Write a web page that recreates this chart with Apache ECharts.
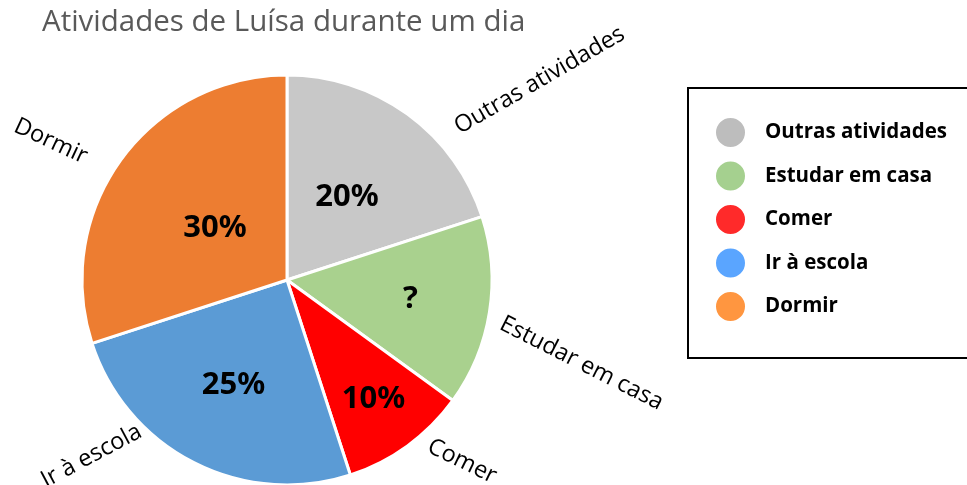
<!DOCTYPE html>
<html>
<head>
<meta charset="utf-8">
<script src="https://cdn.jsdelivr.net/npm/echarts@6/dist/echarts.min.js"></script>
<style>
  html, body { margin: 0; padding: 0; background: #fff; }
  #chart { width: 967px; height: 485px; }
</style>
</head>
<body>
<div id="chart"></div>
<script>
// Daily activities (share of the day, %)
const categories = ['Outras atividades', 'Estudar em casa', 'Comer', 'Ir à escola', 'Dormir'];
const values = [20, 15, 10, 25, 30];
const valueLabels = ['20%', '?', '10%', '25%', '30%'];

// Colours of the slices and of the legend markers
const sliceColors = ['#c8c8c8', '#a9d18e', '#ff0000', '#5b9bd5', '#ed7d31'];
const legendColors = ['#bdbdbd', '#a5d08f', '#ff2a2a', '#5aa5ff', '#ff9640'];

// Pie geometry
const CX = 287, CY = 280, R = 205;
// Radius used to place each bold value label inside its slice
const innerRadius = [102, 125, 147, 118, 89];
// Name labels around the pie: polar position (deg, px) and text rotation (deg)
const outerPlacement = [
  { a: 38.3, r: 322, rot: 30 },
  { a: -15.8, r: 306, rot: -27 },
  { a: -46, r: 252, rot: -26 },
  { a: -138, r: 263, rot: 28 },
  { a: 149.6, r: 274, rot: -25 }
];

const total = values.reduce((s, v) => s + v, 0);
const midAngles = [];
let acc = 0;
values.forEach(v => {
  midAngles.push(90 - 360 * (acc + v / 2) / total);
  acc += v;
});

const pieData = categories.map((name, i) => ({
  name,
  value: values[i],
  itemStyle: { color: sliceColors[i] }
}));

const chart = echarts.init(document.getElementById('chart'), null, { renderer: 'canvas' });

chart.setOption({
  animation: false,
  backgroundColor: '#ffffff',
  title: {
    text: 'Atividades de Luísa durante um dia',
    left: 37,
    top: 3,
    textStyle: {
      fontFamily: 'Open Sans',
      fontSize: 29.5,
      fontWeight: 'normal',
      color: '#595959'
    }
  },
  legend: {
    orient: 'vertical',
    left: 688,
    top: 88,
    padding: [28, 30, 35, 26],
    borderColor: '#000',
    borderWidth: 2,
    itemWidth: 31,
    itemHeight: 31,
    itemGap: 10.5,
    icon: 'circle',
    selectedMode: false,
    textStyle: {
      fontFamily: 'Open Sans',
      fontSize: 20.5,
      fontWeight: 'bold',
      color: '#000',
      padding: [0, 0, 0, 14]
    },
    data: categories.map((name, i) => ({
      name,
      itemStyle: { color: legendColors[i] }
    }))
  },
  series: [
    {
      type: 'pie',
      center: [CX, CY],
      radius: R,
      startAngle: 90,
      clockwise: true,
      silent: true,
      itemStyle: { borderColor: '#fff', borderWidth: 3 },
      label: {
        show: true,
        position: 'inside',
        formatter: p => valueLabels[p.dataIndex],
        fontFamily: 'Noto Sans',
        fontSize: 31,
        fontWeight: 'bold',
        color: '#000'
      },
      labelLayout: p => {
        const i = p.dataIndex;
        const t = midAngles[i] * Math.PI / 180;
        return {
          x: CX + innerRadius[i] * Math.cos(t),
          y: CY - innerRadius[i] * Math.sin(t),
          align: 'center',
          verticalAlign: 'middle'
        };
      },
      data: pieData
    },
    {
      type: 'pie',
      center: [CX, CY],
      radius: R,
      startAngle: 90,
      clockwise: true,
      silent: true,
      itemStyle: { color: 'rgba(0,0,0,0)', borderWidth: 0 },
      label: {
        show: true,
        position: 'outside',
        formatter: '{b}',
        overflow: 'none',
        edgeDistance: 0,
        fontFamily: 'Open Sans',
        fontSize: 23.5,
        color: '#000'
      },
      labelLine: { show: false },
      labelLayout: p => {
        const o = outerPlacement[p.dataIndex];
        const t = o.a * Math.PI / 180;
        return {
          x: CX + o.r * Math.cos(t),
          y: CY - o.r * Math.sin(t),
          align: 'center',
          verticalAlign: 'middle',
          rotate: o.rot
        };
      },
      data: categories.map((name, i) => ({ name, value: values[i] }))
    }
  ]
});
</script>
</body>
</html>
